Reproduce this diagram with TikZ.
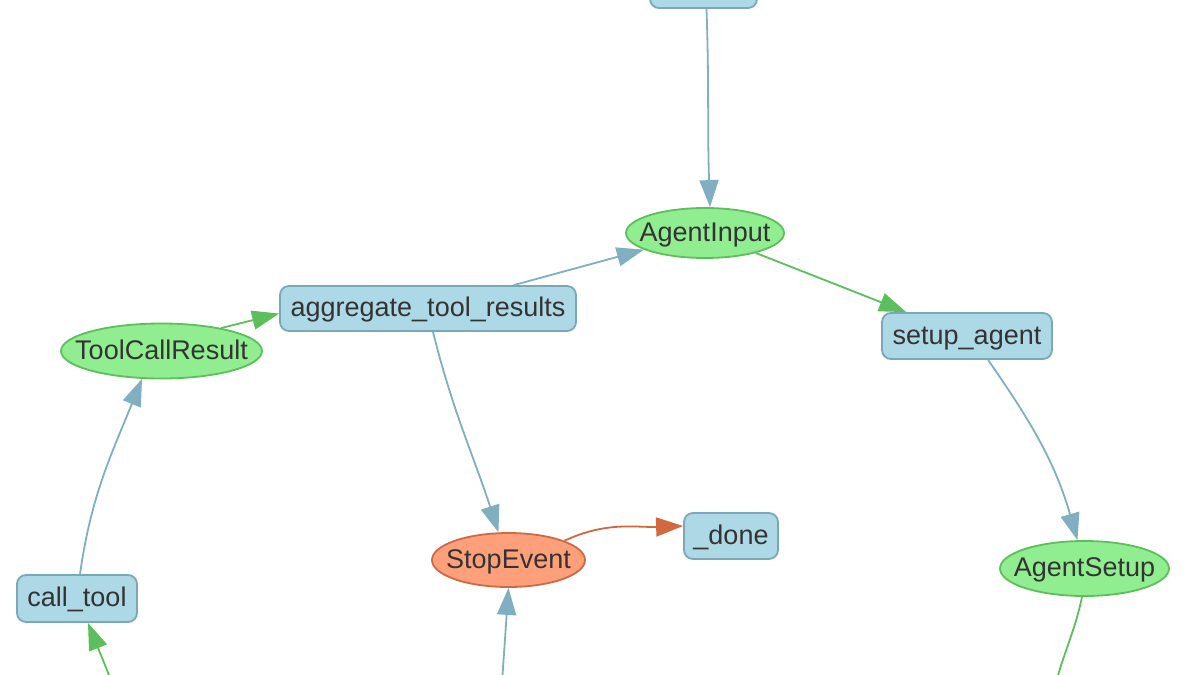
\documentclass[tikz,border=0pt]{standalone}
\usepackage{fontspec}
\setmainfont{Liberation Sans}
\usetikzlibrary{arrows.meta,shapes.geometric}
\definecolor{boxfill}{HTML}{ADD8E6}
\definecolor{boxline}{HTML}{7AA8B8}
\definecolor{evfill}{HTML}{90EE90}
\definecolor{evline}{HTML}{5CBF5C}
\definecolor{stopfill}{HTML}{FFA07A}
\definecolor{stopline}{HTML}{CD6A45}
\definecolor{bluedge}{HTML}{7FAFC0}
\definecolor{greenedge}{HTML}{5CBF5C}
\definecolor{orangeedge}{HTML}{D2693E}
\definecolor{txt}{HTML}{333333}
\tikzset{
  stepbox/.style={draw=boxline, fill=boxfill, line width=1.8pt, rounded corners=9pt,
    inner sep=0pt, text=txt, font=\fontsize{27}{32}\selectfont,
    text height=19.5pt, text depth=3.5pt},
  evnode/.style={ellipse, draw=evline, fill=evfill, line width=1.8pt, inner sep=0pt},
  stopnode/.style={evnode, draw=stopline, fill=stopfill},
  evtext/.style={inner sep=0pt, text=txt, font=\fontsize{27}{32}\selectfont,
    text height=19.5pt, text depth=3.5pt},
  edgebase/.style={line width=1.8pt, -{Triangle[length=27pt,width=19pt]}},
  bedge/.style={edgebase, draw=bluedge},
  gedge/.style={edgebase, draw=greenedge},
  oedge/.style={edgebase, draw=orangeedge},
}
\begin{document}
\begin{tikzpicture}[x=1pt,y=1pt]
\path[use as bounding box, clip] (0,0) rectangle (1200,-675);
\fill[white] (0,0) rectangle (1200,-675);
% nodes
\node[stepbox, minimum width=107pt, minimum height=46pt] (top) at (703.5,15) {};
\node[evnode, minimum width=158pt, minimum height=50pt] (ain) at (705,-233) {};
\node[evtext] (aintxt) at (ain) {AgentInput};
\node[stepbox, minimum width=296pt, minimum height=45pt] (agg) at (428,-308.5) {aggregate\_tool\_results};
\node[stepbox, minimum width=170pt, minimum height=46pt] (sa) at (967,-336) {setup\_agent};
\node[evnode, minimum width=201pt, minimum height=55pt] (tcr) at (161.5,-351) {};
\node[evtext] (tcrtxt) at (tcr) {ToolCallResult};
\node[stepbox, minimum width=120pt, minimum height=47pt] (ct) at (77,-598.5) {call\_tool};
\node[stopnode, minimum width=153pt, minimum height=54pt] (se) at (508.5,-560) {};
\node[evtext] (setxt) at (se) {StopEvent};
\node[stepbox, minimum width=94pt, minimum height=46pt] (done) at (731,-536) {\_done};
\node[evnode, minimum width=169pt, minimum height=55pt] (as) at (1084.5,-568.5) {};
\node[evtext] (astxt) at (as) {AgentSetup};
% off-canvas ends
\coordinate (ctin) at (113,-685);
\coordinate (sein) at (501.5,-690);
\coordinate (asout) at (1054,-690);
% edges
\draw[bedge] ([xshift=3pt]top.south) to[out=-88,in=92] ([xshift=5pt]ain.north);
\draw[bedge] (agg) -- (ain);
\draw[gedge] (ain) -- (sa);
\draw[gedge] (tcr.21) -- ([yshift=-5pt]agg.west);
\draw[bedge] ([xshift=3pt]ct.north) to[out=82,in=-112] (tcr.-125);
\draw[gedge] (ctin) -- ([xshift=11pt]ct.south);
\draw[bedge] ([xshift=5pt]agg.south) to[out=-76,in=108] (se.110);
\draw[oedge] (se.19) to[out=25,in=182] ([yshift=10pt]done.west);
\draw[bedge] (sein) -- (se.south);
\draw[bedge] ([xshift=21pt]sa.south) to[out=-55,in=106] (as.104);
\draw[line width=1.8pt, draw=greenedge] (as.-95) to[out=-102,in=76] (asout);
\end{tikzpicture}
\end{document}
